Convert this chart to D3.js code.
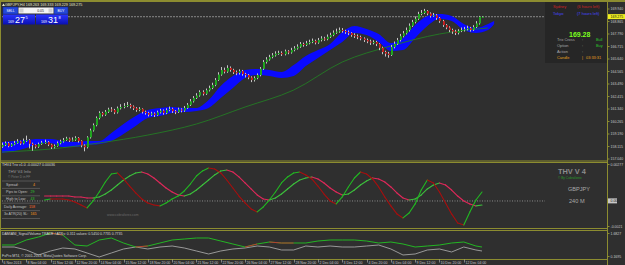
<!DOCTYPE html>
<html>
<head>
<meta charset="utf-8">
<script src="https://cdnjs.cloudflare.com/ajax/libs/d3/7.8.5/d3.min.js"></script>
<style>
html, body { margin: 0; padding: 0; background: #2f2f2f; overflow: hidden; }
svg { display: block; font-family: "Liberation Sans", Arial, sans-serif; }
</style>
</head>
<body>
<svg id="chart" width="625" height="265"></svg>
<script>
// GBPJPY H4 candles (open of each bar = previous close)
const firstOpen = 158.10;
const closes = [
  158.24, 158.40, 158.15, 158.30, 158.42, 158.55, 158.38, 158.60, 158.67, 158.35,
  158.24, 158.10, 158.32, 158.45, 158.50, 158.28, 158.05, 158.16, 158.40, 158.55,
  158.67, 158.80, 158.62, 158.70, 158.85, 158.60, 158.20, 158.05, 158.90, 159.50,
  159.95, 160.57, 161.00, 160.85, 161.10, 161.30, 161.25, 161.05, 161.40, 161.51,
  161.60, 161.68, 161.55, 161.40, 161.25, 161.35, 161.10, 161.00, 160.85, 160.95,
  160.82, 161.05, 161.20, 161.00, 161.25, 161.35, 161.15, 161.08, 161.30, 161.20,
  161.43, 161.70, 162.00, 162.29, 162.50, 162.80, 162.65, 162.95, 163.15, 163.40,
  163.83, 164.30, 164.69, 164.55, 164.87, 164.70, 164.50, 164.44, 164.60, 164.35,
  164.26, 164.05, 163.83, 164.00, 164.26, 164.80, 165.38, 165.60, 165.81, 165.95,
  166.10, 166.16, 166.05, 166.30, 166.20, 166.41, 166.55, 166.70, 166.93, 166.85,
  167.00, 167.10, 167.20, 167.05, 167.27, 167.40, 167.35, 167.55, 167.70, 167.90,
  168.00, 168.13, 168.05, 167.95, 167.88, 167.70, 167.60, 167.53, 167.40, 167.27,
  167.15, 167.05, 167.10, 166.93, 166.60, 166.24, 166.10, 165.98, 166.67, 166.95,
  167.27, 167.60, 167.85, 168.13, 168.50, 168.82, 169.10, 169.51, 169.60, 169.77,
  169.55, 169.34, 169.40, 169.17, 168.90, 168.56, 168.35, 168.13, 168.00, 167.88,
  168.05, 168.13, 168.20, 168.30, 168.15, 168.39, 168.70, 169.263, 169.275
];
const highs = [
  158.45, 158.55, 158.50, 158.40, 158.60, 158.75, 158.62, 158.80, 159.05, 158.75,
  158.45, 158.30, 158.45, 158.60, 158.70, 158.58, 158.35, 158.30, 158.55, 158.70,
  158.85, 158.95, 158.88, 158.90, 159.00, 158.92, 158.65, 158.30, 159.00, 159.65,
  160.10, 160.70, 161.15, 161.10, 161.25, 161.45, 161.50, 161.35, 161.55, 161.75,
  161.85, 161.95, 161.80, 161.65, 161.50, 161.50, 161.40, 161.20, 161.10, 161.10,
  161.05, 161.20, 161.35, 161.30, 161.40, 161.55, 161.45, 161.25, 161.45, 161.40,
  161.60, 161.85, 162.20, 162.45, 162.70, 162.95, 162.95, 163.10, 163.35, 163.60,
  164.00, 164.50, 164.95, 164.90, 165.10, 165.00, 164.80, 164.65, 164.75, 164.70,
  164.45, 164.35, 164.15, 164.15, 164.40, 164.95, 165.55, 165.80, 166.00, 166.15,
  166.30, 166.35, 166.30, 166.45, 166.40, 166.60, 166.75, 166.90, 167.10, 167.05,
  167.20, 167.30, 167.40, 167.30, 167.45, 167.60, 167.55, 167.75, 167.90, 168.10,
  168.25, 168.35, 168.30, 168.15, 168.10, 167.95, 167.85, 167.75, 167.65, 167.50,
  167.40, 167.30, 167.25, 167.20, 167.00, 166.70, 166.35, 166.25, 166.85, 167.15,
  167.45, 167.80, 168.05, 168.35, 168.70, 169.00, 169.30, 169.70, 169.85, 169.95,
  169.85, 169.65, 169.60, 169.50, 169.25, 169.00, 168.65, 168.45, 168.25, 168.15,
  168.20, 168.35, 168.40, 168.50, 168.40, 168.55, 168.90, 169.35, 169.333
];
const lows = [
  158.00, 158.15, 158.05, 158.08, 158.22, 158.35, 158.25, 158.30, 158.50, 157.95,
  157.75, 157.95, 158.00, 158.25, 158.35, 158.15, 157.90, 157.95, 158.10, 158.30,
  158.45, 158.60, 158.50, 158.55, 158.60, 158.45, 158.05, 157.70, 157.95, 158.80,
  159.40, 159.85, 160.45, 160.70, 160.75, 161.00, 161.10, 160.90, 160.95, 161.30,
  161.40, 161.50, 161.40, 161.25, 161.10, 161.15, 160.95, 160.85, 160.70, 160.75,
  160.65, 160.75, 160.95, 160.85, 160.90, 161.15, 161.00, 160.90, 161.00, 161.05,
  161.10, 161.35, 161.60, 161.90, 162.20, 162.40, 162.50, 162.55, 162.85, 163.05,
  163.30, 163.75, 164.20, 164.40, 164.45, 164.55, 164.35, 164.25, 164.30, 164.20,
  164.05, 163.90, 163.65, 163.70, 163.90, 164.15, 164.70, 165.25, 165.50, 165.70,
  165.85, 166.00, 165.90, 165.95, 166.05, 166.10, 166.30, 166.45, 166.60, 166.70,
  166.75, 166.90, 167.00, 166.90, 166.95, 167.15, 167.20, 167.25, 167.45, 167.60,
  167.80, 167.90, 167.90, 167.80, 167.70, 167.55, 167.45, 167.35, 167.25, 167.10,
  167.00, 166.85, 166.90, 166.75, 166.40, 166.05, 165.85, 165.75, 165.90, 166.55,
  166.85, 167.15, 167.50, 167.75, 168.00, 168.40, 168.70, 169.00, 169.40, 169.50,
  169.40, 169.20, 169.25, 169.00, 168.75, 168.40, 168.20, 167.95, 167.80, 167.70,
  167.75, 167.95, 168.00, 168.10, 168.00, 168.05, 168.30, 168.60, 169.229
];

// blue band, sampled every 4 bars (last point two bars past the last candle)
const cloudAt = d3.range(0, 161, 4).concat([162]);
const cloudTop = [
  158.50, 158.59, 158.67, 158.76, 158.76, 158.59, 158.50, 158.59, 158.59, 159.28,
  160.05, 160.74, 161.25, 161.43, 161.51, 161.43, 161.43, 162.11, 163.32, 164.18,
  164.69, 164.78, 164.69, 164.52, 165.12, 165.90, 166.41, 166.93, 167.96, 168.48,
  168.22, 167.79, 167.02, 167.45, 168.56, 169.34, 169.51, 169.34, 168.65, 168.31,
  168.65, 168.91
];
const cloudBot = [
  157.56, 157.73, 157.99, 158.33, 158.42, 158.07, 158.07, 158.24, 158.33, 158.59,
  159.19, 159.88, 160.57, 160.74, 161.00, 161.08, 161.17, 161.43, 162.29, 163.15,
  164.01, 164.26, 164.18, 164.01, 164.18, 165.04, 165.73, 166.41, 167.10, 167.88,
  167.70, 167.10, 166.33, 166.41, 167.45, 168.48, 169.08, 168.91, 168.13, 167.88,
  168.13, 168.65
];

// slow moving average, every 16 bars
const maAt = d3.range(0, 161, 16);
const maLine = [157.64, 157.90, 158.42, 159.10, 160.05, 161.51, 162.97, 165.38, 166.76, 167.79, 168.31];

// Trix panel, every 2 bars from bar 14
const trixAt = d3.range(14, 159, 2);
const trixFast = [
  0.00007, 0.00015, 0.00015, 0.00015, 0.00007, -0.00007, -0.00030, -0.00052, 0, 0.00067,
  0.00142, 0.00202, 0.00210, 0.00165, 0.00112, 0.00060, 0.00015, -0.00015, -0.00030, -0.00037,
  -0.00015, 0.00015, 0.00037, 0.00075, 0.00127, 0.00187, 0.00225, 0.00247, 0.00240, 0.00210,
  0.00157, 0.00097, 0.00037, -0.00015, -0.00060, -0.00082, -0.00045, 0.00007, 0.00067, 0.00135,
  0.00180, 0.00210, 0.00217, 0.00195, 0.00165, 0.00112, 0.00052, 0, -0.00022, 0.00030,
  0.00105, 0.00172, 0.00217, 0.00202, 0.00165, 0.00105, 0.00030, -0.00037, -0.00097, -0.00127,
  -0.00090, -0.00022, 0.00082, 0.00157, 0.00135, 0.00067, -0.00015, -0.00097, -0.00165, -0.00180,
  -0.00082, 0.00007, 0.00067
];
const trixSlow = [
  0.00037, 0.00037, 0.00037, 0.00037, 0.00037, 0.00030, 0.00030, 0.00022, 0.00022, 0.00030,
  0.00052, 0.00082, 0.00120, 0.00157, 0.00187, 0.00210, 0.00217, 0.00202, 0.00172, 0.00135,
  0.00097, 0.00067, 0.00045, 0.00037, 0.00052, 0.00082, 0.00120, 0.00157, 0.00195, 0.00225,
  0.00232, 0.00217, 0.00180, 0.00135, 0.00090, 0.00045, 0.00015, 0.00007, 0.00022, 0.00052,
  0.00090, 0.00127, 0.00157, 0.00172, 0.00180, 0.00165, 0.00135, 0.00097, 0.00067, 0.00045,
  0.00052, 0.00082, 0.00120, 0.00150, 0.00172, 0.00165, 0.00142, 0.00105, 0.00060, 0.00022,
  0.00007, 0.00015, 0.00045, 0.00090, 0.00120, 0.00135, 0.00120, 0.00082, 0.00037, 0,
  -0.00022, -0.00037, -0.00030
];

// Damiani panel, every 4 bars
const damAt = d3.range(0, 157, 4).concat([158]);
const damSignal = [
  0.926, 0.926, 1.241, 1.430, 1.683, 1.557, 0.926, 0.863, 1.241, 1.367,
  1.052, 0.800, 0.863, 1.052, 1.241, 1.304, 1.367, 1.367, 1.178, 0.989,
  0.800, 0.989, 1.115, 1.052, 1.052, 1.052, 1.178, 1.241, 1.241, 1.241,
  1.178, 1.052, 1.115, 0.989, 0.800, 0.863, 0.926, 1.052, 1.115, 0.863, 0.800
];
const damVol = [
  0.800, 0.800, 0.611, 0.296, 0.548, 0.737, 0.674, 0.422, 0.170, 0.422,
  0.674, 0.800, 0.674, 0.800, 0.863, 0.737, 0.548, 0.359, 0.548, 0.674,
  0.737, 0.863, 0.800, 0.611, 0.611, 0.863, 0.800, 0.863, 0.800, 0.800,
  0.863, 0.926, 0.674, 0.296, 0.359, 0.611, 0.674, 0.485, 0.800, 0.611, 0.548
];
const damRedSpans = [[4, 5], [11, 12], [20, 21], [22, 24]];

const priceTicks = [157.040, 158.115, 159.190, 160.265, 161.340, 162.415, 163.490, 164.565, 165.640, 166.715, 167.790, 168.865, 169.940];
const bid = 169.275;
const timeLabels = ["6 Nov 2013", "8 Nov 04:00", "11 Nov 12:00", "12 Nov 20:00", "14 Nov 04:00", "15 Nov 12:00",
  "18 Nov 20:00", "20 Nov 04:00", "21 Nov 12:00", "22 Nov 20:00", "26 Nov 04:00", "27 Nov 12:00",
  "28 Nov 20:00", "2 Dec 04:00", "3 Dec 12:00", "4 Dec 20:00", "6 Dec 04:00", "9 Dec 12:00",
  "10 Dec 20:00", "12 Dec 04:00"];
const infoRows = [["Spread:", "4", "#ff9a1a"], ["Pips to Open:", "29", "#2ccc2c"], ["High to Low:", "43", "#2ccc2c"],
  ["Daily Average:", "158", "#ff6a2a"], ["3x ATR(20) SL:", "165", "#ff9a1a"]];
const sessionRows = [["Sydney", "(6 hours left)", "#d02424"], ["Tokyo", "(7 hours left)", "#4646ff"]];
const signalRows = [["Trix Cross", ":", "Bull", "#a8a8a8", "#2ccc2c"], ["Option", ":", "Buy", "#a8a8a8", "#2ccc2c"],
  ["Action", ":", "", "#a8a8a8", "#2ccc2c"], ["Candle", "|", "03:33:31", "#e8a020", "#e8a020"]];

const olive = "#8c8c30", txt = "#c8c8c8";
const svg = d3.select("#chart");
svg.append("rect").attr("width", 625).attr("height", 265).attr("fill", "#2f2f2f");

const x = d3.scaleLinear().domain([0, 158]).range([2, 482]);
const yP = d3.scaleLinear().domain([157.04, 169.94]).range([159, 9]);
const yT = d3.scaleLinear().domain([-0.0021, 0.00277]).range([229, 164]);
const yD = d3.scaleLinear().domain([0.1695, 1.6827]).range([257, 233]);

const defs = svg.append("defs");
[["cMain", 2, 160], ["cTrix", 163, 227], ["cDam", 231, 258]].forEach(([id, y0, y1]) => {
  defs.append("clipPath").attr("id", id).append("rect")
    .attr("x", 2).attr("y", y0).attr("width", 605).attr("height", y1 - y0);
});

// ---- main panel
const main = svg.append("g").attr("clip-path", "url(#cMain)");
main.append("line").attr("x1", 2).attr("x2", 607).attr("y1", yP(bid)).attr("y2", yP(bid))
  .attr("stroke", "#8a8a8a").attr("stroke-dasharray", "2,1");

main.append("path")
  .datum(cloudAt.map((b, k) => ({b, t: cloudTop[k], l: cloudBot[k]})))
  .attr("fill", "#0a0aff")
  .attr("d", d3.area().x(d => x(d.b)).y0(d => yP(d.l)).y1(d => yP(d.t)).curve(d3.curveMonotoneX));

main.append("path")
  .datum(maAt.map((b, k) => ({b, v: maLine[k]})))
  .attr("fill", "none").attr("stroke", "#247a24").attr("stroke-width", 0.9)
  .attr("d", d3.line().x(d => x(d.b)).y(d => yP(d.v)).curve(d3.curveMonotoneX));

const bars = closes.map((c, i) => ({i, o: i ? closes[i - 1] : firstOpen, c, h: highs[i], l: lows[i]}));
main.selectAll("line.wick").data(bars).join("line").attr("class", "wick")
  .attr("x1", d => Math.round(x(d.i)) + 0.5).attr("x2", d => Math.round(x(d.i)) + 0.5)
  .attr("y1", d => yP(d.h)).attr("y2", d => yP(d.l))
  .attr("stroke", "#c4c4c4").attr("stroke-width", 1);
main.selectAll("rect.body").data(bars).join("rect").attr("class", "body")
  .attr("x", d => Math.round(x(d.i)))
  .attr("width", 2)
  .attr("y", d => yP(Math.max(d.o, d.c)))
  .attr("height", d => Math.max(1, Math.abs(yP(d.o) - yP(d.c))))
  .attr("fill", d => d.c >= d.o ? "#1fa51f" : "#c42020");

// title + trade panel
svg.append("text").attr("x", 5).attr("y", 6).attr("font-size", 3.7).attr("fill", "#e6e6c8")
  .text("GBPJPY,H4  169.263 169.333 169.229 169.275");
svg.append("path").attr("d", "M2,6 L3.5,3.5 L5,6 Z").attr("fill", "#e6e6c8");

const tp = svg.append("g");
tp.append("rect").attr("x", 3).attr("y", 7).attr("width", 15).attr("height", 7).attr("fill", "#2448d8").attr("stroke", "#10208a").attr("stroke-width", 0.5);
tp.append("rect").attr("x", 54).attr("y", 7).attr("width", 14).attr("height", 7).attr("fill", "#2448d8").attr("stroke", "#10208a").attr("stroke-width", 0.5);
tp.append("rect").attr("x", 18.5).attr("y", 7.5).attr("width", 35).attr("height", 6).attr("fill", "#f4f4f4");
tp.append("rect").attr("x", 19.5).attr("y", 8.5).attr("width", 4).attr("height", 4).attr("fill", "#cfcfcf");
tp.append("rect").attr("x", 48.5).attr("y", 8.5).attr("width", 4).attr("height", 4).attr("fill", "#cfcfcf");
tp.append("text").attr("x", 10.5).attr("y", 12).attr("text-anchor", "middle").attr("font-size", 3.3).attr("fill", "#fff").text("SELL");
tp.append("text").attr("x", 61).attr("y", 12).attr("text-anchor", "middle").attr("font-size", 3.3).attr("fill", "#fff").text("BUY");
tp.append("text").attr("x", 44).attr("y", 12).attr("text-anchor", "end").attr("font-size", 3.5).attr("fill", "#222").text("0.05");
const grad = defs.append("linearGradient").attr("id", "bg").attr("x1", 0).attr("x2", 0).attr("y1", 0).attr("y2", 1);
grad.append("stop").attr("offset", 0).attr("stop-color", "#2a34ff");
grad.append("stop").attr("offset", 1).attr("stop-color", "#0a10b0");
[[3, "27", "5"], [36, "31", "8"]].forEach(([bx, big, sup]) => {
  tp.append("rect").attr("x", bx).attr("y", 14.5).attr("width", 32).attr("height", 10).attr("fill", "url(#bg)");
  tp.append("text").attr("x", bx + 5).attr("y", 22.5).attr("font-size", 3.6).attr("fill", "#fff").text("169");
  tp.append("text").attr("x", bx + 12).attr("y", 23.3).attr("font-size", 9).attr("fill", "#fff").text(big);
  tp.append("text").attr("x", bx + 22.5).attr("y", 18.5).attr("font-size", 4).attr("fill", "#fff").text(sup);
});

// info box top right
const ib = svg.append("g");
ib.append("rect").attr("x", 545).attr("y", 2).attr("width", 62).attr("height", 61).attr("fill", "#262626");
sessionRows.forEach(([a, b, c], k) => {
  ib.append("text").attr("x", 553).attr("y", 8 + k * 7.3).attr("font-size", 4).attr("fill", c).text(a);
  ib.append("text").attr("x", 577).attr("y", 8 + k * 7.3).attr("font-size", 4).attr("fill", c).text(b);
});
ib.append("text").attr("x", 569).attr("y", 36.5).attr("font-size", 7).attr("font-weight", "bold").attr("fill", "#7cff1e").text(bid.toFixed(2));
signalRows.forEach(([a, s, v, c1, c2], k) => {
  const yy = 41.3 + k * 5.9;
  ib.append("text").attr("x", 557).attr("y", yy).attr("font-size", 3.9).attr("fill", c1).text(a);
  ib.append("text").attr("x", 582).attr("y", yy).attr("font-size", 3.9).attr("fill", c1).text(s);
  ib.append("text").attr("x", k === 3 ? 586 : 596).attr("y", yy).attr("font-size", 3.9).attr("fill", c2).text(v);
});

// ---- Trix panel
const tg = svg.append("g").attr("clip-path", "url(#cTrix)");
tg.append("line").attr("x1", 2).attr("x2", 545).attr("y1", yT(0)).attr("y2", yT(0))
  .attr("stroke", "#8a8a8a").attr("stroke-dasharray", "1,1.5");
tg.append("text").attr("x", 107).attr("y", 216).attr("font-size", 3.4).attr("fill", "#6a6a6a").text("www.cobraforex.com");
function segLines(g, vals, up, down) {
  const segs = d3.range(vals.length - 1).map(k => ({k, a: vals[k], b: vals[k + 1]}));
  g.selectAll(null).data(segs).join("line")
    .attr("x1", d => x(trixAt[d.k])).attr("x2", d => x(trixAt[d.k + 1]))
    .attr("y1", d => yT(d.a)).attr("y2", d => yT(d.b))
    .attr("stroke", d => d.b > d.a ? up : down).attr("stroke-width", 1.1).attr("stroke-linecap", "round");
}
segLines(tg.append("g"), trixSlow, "#3cbf3c", "#e0285a");
segLines(tg.append("g"), trixFast, "#22b822", "#a80e0e");

const lab = svg.append("g");
lab.append("text").attr("x", 2).attr("y", 166).attr("font-size", 3.6).attr("fill", "#d8d8d8").text("THV4 Trix v1.0 -0.00027 0.00036");
lab.append("text").attr("x", 8).attr("y", 173).attr("font-size", 4.2).attr("fill", "#9a9a9a").text("THV   V4   Info");
lab.append("text").attr("x", 8).attr("y", 178).attr("font-size", 3.2).attr("fill", "#7a7a7a").text("© Peter D in FF");
infoRows.forEach(([a, v, c], k) => {
  const yy = 185.5 + k * 7.4;
  lab.append("line").attr("x1", 2).attr("x2", 40).attr("y1", yy - 4.5).attr("y2", yy - 4.5).attr("stroke", "#6e6e6e").attr("stroke-width", 0.6);
  lab.append("text").attr("x", k < 3 ? 6 : 4).attr("y", yy).attr("font-size", 3.6).attr("fill", "#c0c0c0").text(a);
  lab.append("text").attr("x", k === 0 ? 33 : (k === 3 ? 29 : 30.5)).attr("y", yy).attr("font-size", 3.6).attr("fill", c).text(v);
});
lab.append("line").attr("x1", 2).attr("x2", 40).attr("y1", 218.5).attr("y2", 218.5).attr("stroke", "#6e6e6e").attr("stroke-width", 0.6);
lab.append("text").attr("x", 558).attr("y", 174).attr("font-size", 7.4).attr("font-weight", "bold").attr("fill", "#8c8c8c").text("THV V 4");
lab.append("text").attr("x", 558).attr("y", 178.8).attr("font-size", 3.2).attr("fill", "#2a9a2a").text("© By Cobraforex");
lab.append("text").attr("x", 568).attr("y", 191).attr("font-size", 5.6).attr("fill", "#a8a8a8").text("GBPJPY");
lab.append("text").attr("x", 569).attr("y", 202.5).attr("font-size", 5.6).attr("fill", "#a8a8a8").text("240 M");

// ---- Damiani panel
const dg = svg.append("g").attr("clip-path", "url(#cDam)");
const dLine = d3.line().x(d => x(d.b)).y(d => yD(d.v));
dg.append("path").datum(damAt.map((b, k) => ({b, v: damVol[k]})))
  .attr("fill", "none").attr("stroke", "#a4a4a4").attr("stroke-width", 0.9).attr("d", dLine);
dg.append("path").datum(damAt.map((b, k) => ({b, v: damSignal[k]})))
  .attr("fill", "none").attr("stroke", "#22c422").attr("stroke-width", 0.9).attr("d", dLine);
damRedSpans.forEach(([a, b]) => {
  dg.append("path").datum(d3.range(a, b + 1).map(k => ({b: damAt[k], v: damSignal[k]})))
    .attr("fill", "none").attr("stroke", "#c83232").attr("stroke-width", 0.9).attr("d", dLine);
});
svg.append("text").attr("x", 2).attr("y", 234.5).attr("font-size", 3.5).attr("fill", "#d8d8d8")
  .text("DAMIANI_Signal/Volume TRADE  /  ATRs: 0.311     values: 0.5450 0.7735 0.7735");
svg.append("text").attr("x", 2).attr("y", 257).attr("font-size", 3.5).attr("fill", "#d0d0d0")
  .text("FxPro MT4, © 2001-2013, MetaQuotes Software Corp.");

// ---- frame
const fr = svg.append("g").attr("stroke", olive).attr("fill", "none");
fr.append("line").attr("x1", 0).attr("x2", 625).attr("y1", 1).attr("y2", 1).attr("stroke-width", 2);
fr.append("line").attr("x1", 0.5).attr("x2", 0.5).attr("y1", 0).attr("y2", 259);
fr.append("line").attr("x1", 607.5).attr("x2", 607.5).attr("y1", 0).attr("y2", 265);
[161, 162.5, 228.5, 230.5, 259.5].forEach(yy => {
  fr.append("line").attr("x1", 0).attr("x2", 607).attr("y1", yy).attr("y2", yy).attr("stroke-width", 1);
});

// ---- right axes
const ax = svg.append("g").attr("font-size", 3.5).attr("fill", txt);
function rLabel(yy, s, hl) {
  ax.append("line").attr("x1", 607).attr("x2", 609.5).attr("y1", yy).attr("y2", yy).attr("stroke", olive);
  if (hl) ax.append("rect").attr("x", 608).attr("y", yy - 2.6).attr("width", hl[1]).attr("height", 5).attr("fill", hl[0]);
  ax.append("text").attr("x", 610.5).attr("y", yy + 1.3).attr("fill", hl ? "#111" : txt).text(s);
}
priceTicks.forEach(v => rLabel(yP(v), d3.format(".3f")(v)));
rLabel(yP(bid), d3.format(".3f")(bid), ["#f0f020", 17]);
rLabel(164.5, "0.00277");
rLabel(yT(0), "0.00", ["#c8c8c8", 9]);
rLabel(226.5, "-0.0021");
rLabel(233.5, "1.6827");
rLabel(256.5, "0.1695");

// ---- time axis
const tx = svg.append("g");
timeLabels.forEach((s, k) => {
  const xx = Math.round(x(k * 8)) + 0.5;
  tx.append("line").attr("x1", xx).attr("x2", xx).attr("y1", 259.5).attr("y2", 262.5).attr("stroke", "#bcbcbc").attr("stroke-width", 0.6);
  tx.append("text").attr("x", xx + 1).attr("y", 263.8).attr("font-size", 3.5).attr("fill", txt).text(s);
});
</script>
</body>
</html>
